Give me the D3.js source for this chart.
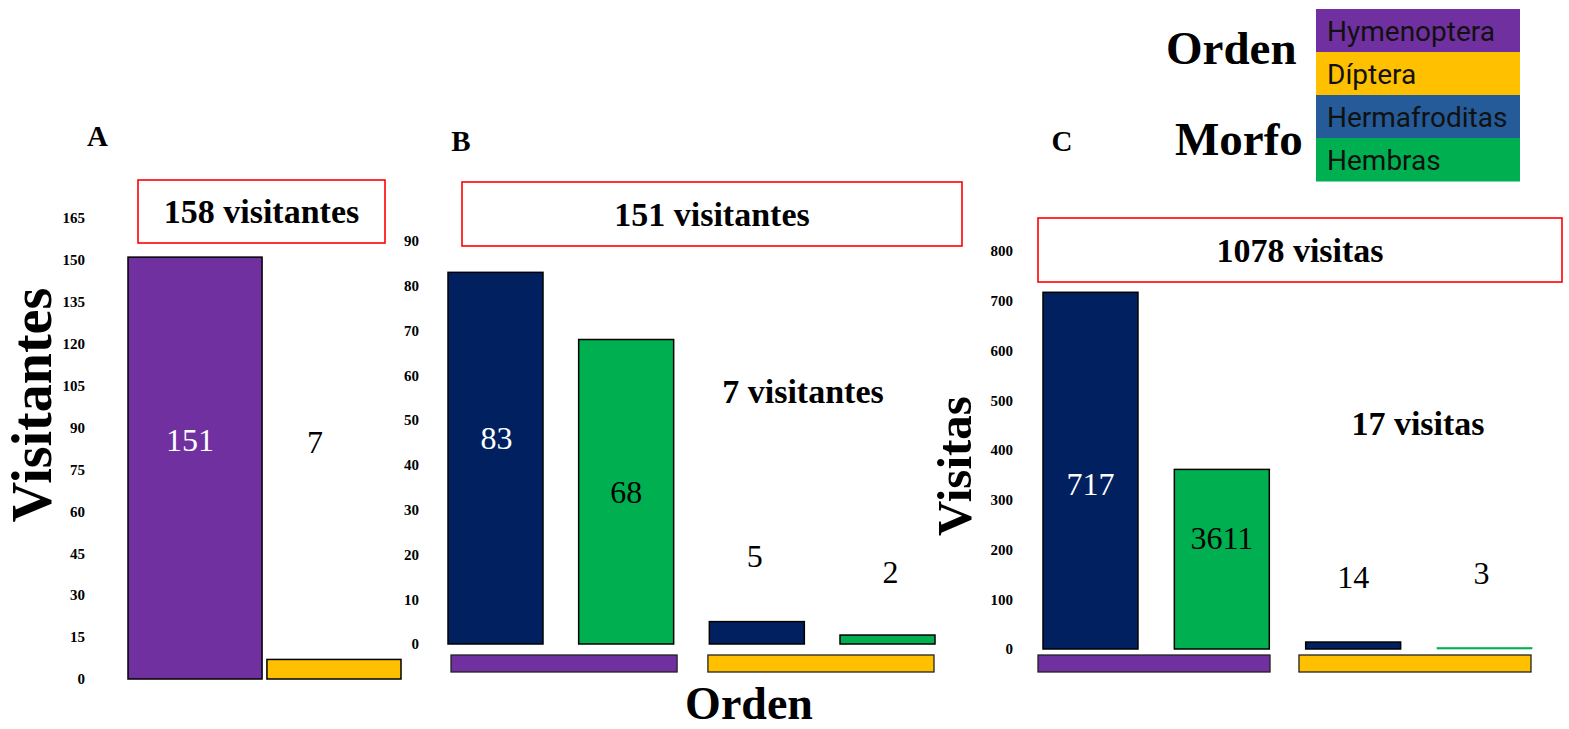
<!DOCTYPE html>
<html>
<head>
<meta charset="utf-8">
<script src="https://cdn.jsdelivr.net/npm/d3@7"></script>
<style>
  html, body { margin: 0; padding: 0; background: #ffffff; }
  svg { display: block; }
</style>
</head>
<body>
<svg id="chart" width="1569" height="729"></svg>
<script>
// ---------------- DATA ----------------
const ordenes = ["Hymenoptera", "Díptera"];
const morfos = ["Hermafroditas", "Hembras"];

// Panel A: visitantes por orden
const visitantesOrden = [151, 7];
const visitantesOrdenLabels = ["151", "7"];

// Panel B: visitantes por orden y morfo (Hym-Herm, Hym-Hemb, Dip-Herm, Dip-Hemb)
const barOrden = ["Hymenoptera", "Hymenoptera", "Díptera", "Díptera"];
const barMorfo = ["Hermafroditas", "Hembras", "Hermafroditas", "Hembras"];
const visitantesMorfo = [83, 68, 5, 2];
const visitantesMorfoLabels = ["83", "68", "5", "2"];

// Panel C: visitas por orden y morfo
const visitasMorfo = [717, 361, 14, 3];
const visitasMorfoLabels = ["717", "3611", "14", "3"];

// Tick labels
const ticksA = [0, 15, 30, 45, 60, 75, 90, 105, 120, 135, 150, 165];
const ticksB = [0, 10, 20, 30, 40, 50, 60, 70, 80, 90];
const ticksC = [0, 100, 200, 300, 400, 500, 600, 700, 800];

// Texts
const panelLetters = ["A", "B", "C"];
const totalA = "158 visitantes";
const totalB = "151 visitantes";
const totalC = "1078 visitas";
const dipteraB = "7 visitantes";
const dipteraC = "17 visitas";
const yTitleA = "Visitantes";
const yTitleC = "Visitas";
const xTitle = "Orden";
const legendGroups = ["Orden", "Morfo"];
const legendItems = ["Hymenoptera", "Díptera", "Hermafroditas", "Hembras"];

// ---------------- STYLE ----------------
const colOrden = d3.scaleOrdinal().domain(ordenes).range(["#7030A0", "#FFC000"]);
const colMorfo = d3.scaleOrdinal().domain(morfos).range(["#002060", "#00B050"]);
const legendColors = ["#7030A0", "#FFC000", "#245B98", "#00B050"];
const SERIF = '"Liberation Serif", "Times New Roman", serif';
const SANS = 'Roboto, "Noto Sans", Arial, sans-serif';

const svg = d3.select("#chart");

function yAxis(scale, ticks, xPos) {
  const g = svg.append("g")
    .attr("transform", `translate(${xPos},0)`)
    .call(d3.axisLeft(scale).tickValues(ticks).tickSize(0).tickPadding(0).tickFormat(d3.format("d")));
  g.select(".domain").remove();
  g.selectAll("text")
    .attr("font-family", SERIF)
    .attr("font-weight", "bold")
    .attr("font-size", 15)
    .attr("fill", "#000");
}

function redBox(x0, x1, y0, y1, text, baseline) {
  svg.append("rect").attr("x", x0).attr("y", y0)
    .attr("width", x1 - x0).attr("height", y1 - y0)
    .attr("fill", "none").attr("stroke", "#FF0000").attr("stroke-width", 1.6);
  svg.append("text").attr("x", (x0 + x1) / 2).attr("y", baseline)
    .attr("text-anchor", "middle").attr("font-family", SERIF)
    .attr("font-weight", "bold").attr("font-size", 34).text(text);
}

// ---------------- PANEL A ----------------
const yA = d3.scaleLinear().domain([0, 165]).range([679, 218]);
const xA = d3.scaleBand().domain(ordenes).range([128, 401]).paddingInner(0.035);
yAxis(yA, ticksA, 85);

svg.append("g").selectAll("rect").data(ordenes).join("rect")
  .attr("x", d => xA(d))
  .attr("width", xA.bandwidth())
  .attr("y", (d, i) => yA(visitantesOrden[i]))
  .attr("height", (d, i) => yA(0) - yA(visitantesOrden[i]))
  .attr("fill", d => colOrden(d))
  .attr("stroke", "#000").attr("stroke-width", 1.5);

const labelLayoutA = [{ dx: -5, y: 451, fill: "#fff" }, { dx: -19, y: 453, fill: "#000" }];
svg.append("g").selectAll("text").data(ordenes).join("text")
  .attr("x", (d, i) => xA(d) + xA.bandwidth() / 2 + labelLayoutA[i].dx)
  .attr("y", (d, i) => labelLayoutA[i].y)
  .attr("text-anchor", "middle").attr("font-family", SERIF).attr("font-size", 32)
  .attr("fill", (d, i) => labelLayoutA[i].fill)
  .text((d, i) => visitantesOrdenLabels[i]);

svg.append("text").attr("transform", "translate(51,405) rotate(-90)")
  .attr("text-anchor", "middle").attr("font-family", SERIF).attr("font-weight", "bold")
  .attr("font-size", 56).text(yTitleA);

svg.append("text").attr("x", 87).attr("y", 146).attr("font-family", SERIF)
  .attr("font-weight", "bold").attr("font-size", 29).text(panelLetters[0]);
redBox(138, 385, 180, 243, totalA, 223);

// ---------------- PANELS B & C (grouped) ----------------
function groupedPanel(opts) {
  const y = d3.scaleLinear().domain(opts.domain).range(opts.yRange);
  const keys = d3.range(opts.values.length);
  const x = d3.scaleBand().domain(keys).range(opts.xRange).paddingInner(opts.pad);
  const xo = d3.scaleBand().domain(ordenes).range(opts.stripRange).paddingInner(opts.stripPad);
  yAxis(y, opts.ticks, opts.axisX);

  svg.append("g").selectAll("rect").data(keys).join("rect")
    .attr("x", i => x(i))
    .attr("width", x.bandwidth())
    .attr("y", i => y(opts.values[i]))
    .attr("height", i => Math.max(1.2, y(0) - y(opts.values[i])))
    .attr("fill", i => colMorfo(barMorfo[i]))
    .attr("stroke", i => (y(0) - y(opts.values[i]) > 3 ? "#000" : colMorfo(barMorfo[i])))
    .attr("stroke-width", i => (y(0) - y(opts.values[i]) > 3 ? 1.5 : 0.6));

  svg.append("g").selectAll("rect").data(ordenes).join("rect")
    .attr("x", d => xo(d))
    .attr("width", xo.bandwidth())
    .attr("y", opts.stripY)
    .attr("height", 17)
    .attr("fill", d => colOrden(d))
    .attr("stroke", "#222").attr("stroke-width", 1.3);

  svg.append("g").selectAll("text").data(keys).join("text")
    .attr("x", i => x(i) + x.bandwidth() / 2 + opts.labelLayout[i].dx)
    .attr("y", i => opts.labelLayout[i].y)
    .attr("text-anchor", "middle").attr("font-family", SERIF).attr("font-size", 32)
    .attr("fill", i => (i === 0 ? "#fff" : "#000"))
    .text(i => opts.labels[i]);
}

groupedPanel({
  domain: [0, 90], yRange: [644, 241], ticks: ticksB, axisX: 419,
  values: visitantesMorfo, labels: visitantesMorfoLabels,
  xRange: [448, 935], pad: 0.273,
  stripRange: [451, 934], stripPad: 0.12, stripY: 655,
  labelLayout: [{ dx: 1, y: 449 }, { dx: 0, y: 503 }, { dx: -2, y: 567 }, { dx: 3, y: 583 }]
});
svg.append("text").attr("x", 461).attr("y", 151).attr("text-anchor", "middle")
  .attr("font-family", SERIF).attr("font-weight", "bold").attr("font-size", 29).text(panelLetters[1]);
redBox(462, 962, 182, 246, totalB, 226);
svg.append("text").attr("x", 803).attr("y", 403).attr("text-anchor", "middle")
  .attr("font-family", SERIF).attr("font-weight", "bold").attr("font-size", 34).text(dipteraB);
svg.append("text").attr("x", 749).attr("y", 719).attr("text-anchor", "middle")
  .attr("font-family", SERIF).attr("font-weight", "bold").attr("font-size", 46).text(xTitle);

groupedPanel({
  domain: [0, 800], yRange: [649, 251], ticks: ticksC, axisX: 1013,
  values: visitasMorfo, labels: visitasMorfoLabels,
  xRange: [1043, 1532], pad: 0.277,
  stripRange: [1038, 1531], stripPad: 0.111, stripY: 655,
  labelLayout: [{ dx: 0, y: 495 }, { dx: 0, y: 549 }, { dx: 0, y: 588 }, { dx: -3, y: 584 }]
});
svg.append("text").attr("x", 1062).attr("y", 151).attr("text-anchor", "middle")
  .attr("font-family", SERIF).attr("font-weight", "bold").attr("font-size", 29).text(panelLetters[2]);
redBox(1038, 1562, 218, 282, totalC, 262);
svg.append("text").attr("x", 1418).attr("y", 435).attr("text-anchor", "middle")
  .attr("font-family", SERIF).attr("font-weight", "bold").attr("font-size", 34).text(dipteraC);
svg.append("text").attr("transform", "translate(971,466) rotate(-90)")
  .attr("text-anchor", "middle").attr("font-family", SERIF).attr("font-weight", "bold")
  .attr("font-size", 49).text(yTitleC);

// ---------------- LEGEND ----------------
const legY = d3.scaleBand().domain(legendItems).range([9, 181]);
const leg = svg.append("g");
leg.selectAll("rect").data(legendItems).join("rect")
  .attr("x", 1316).attr("width", 204)
  .attr("y", d => legY(d)).attr("height", legY.bandwidth() + 0.5)
  .attr("fill", (d, i) => legendColors[i]);
leg.selectAll("text").data(legendItems).join("text")
  .attr("x", 1327).attr("y", d => legY(d) + legY.bandwidth() / 2 + 10)
  .attr("font-family", SANS).attr("font-size", 28).attr("fill", "#111")
  .text(d => d);
svg.append("text").attr("x", 1166).attr("y", 64).attr("font-family", SERIF)
  .attr("font-weight", "bold").attr("font-size", 47).text(legendGroups[0]);
svg.append("text").attr("x", 1175).attr("y", 155).attr("font-family", SERIF)
  .attr("font-weight", "bold").attr("font-size", 47).text(legendGroups[1]);
</script>
</body>
</html>
